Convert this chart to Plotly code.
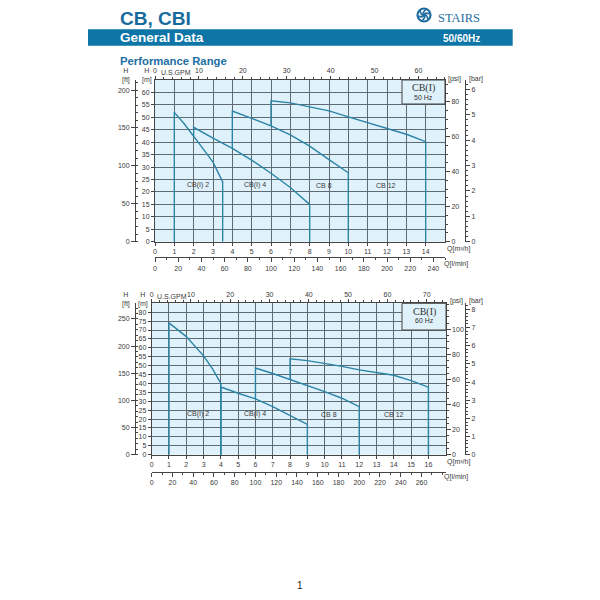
import numpy as np
import plotly.graph_objects as go

# ---------------- data ----------------
# 50 Hz  (Q in m3/h, H in m)
Q50_CB2 = [1, 1.5, 2, 2.5, 3, 3.5]
H50_CB2 = [52, 47.5, 42.5, 37.2, 32, 24]
Q50_CB4 = [2, 3, 4, 5, 6, 7, 8]
H50_CB4 = [46, 41.6, 37.5, 32.8, 27.5, 21.8, 15]
Q50_CB8 = [4, 5, 6, 7, 8, 9, 10]
H50_CB8 = [52.5, 49.6, 46.6, 42.9, 38.4, 33, 27.7]
Q50_CB12 = [6, 7, 8, 9, 10, 11, 12, 13, 14]
H50_CB12 = [56.6, 55.8, 54.2, 52.6, 50.2, 47.9, 45.5, 43.2, 40.2]

# 60 Hz
Q60_CB2 = [1, 2, 3, 3.5, 4]
H60_CB2 = [74, 66.3, 55.5, 48.5, 40]
Q60_CB4 = [4, 5, 6, 7, 8, 9]
H60_CB4 = [38, 34.5, 31.3, 27, 22.1, 17]
Q60_CB8 = [6, 7, 8, 9, 10, 11, 12]
H60_CB8 = [48.7, 45.6, 42.2, 39.2, 35.4, 31.7, 27]
Q60_CB12 = [8, 9, 10, 11, 12, 13, 14, 15, 16]
H60_CB12 = [53.8, 52.8, 51.3, 49.6, 47.6, 46.3, 44.6, 41.6, 37.9]

MODELS = ["CB(I) 2", "CB(I) 4", "CB 8", "CB 12"]
LABEL_Q50 = [2.24, 5.17, 8.73, 11.93]
LABEL_Q60 = [2.69, 6.0, 10.27, 14.0]
LABEL_H = 22.6

GPM_TICKS_50 = list(range(0, 61, 10))
GPM_TICKS_60 = list(range(0, 71, 10))
LMIN_TICKS_50 = list(range(0, 241, 20))
LMIN_TICKS_60 = list(range(0, 261, 20))
FT_TICKS_50 = list(range(0, 201, 50))
FT_TICKS_60 = list(range(0, 251, 50))
PSI_TICKS_50 = list(range(0, 81, 20))
PSI_TICKS_60 = list(range(0, 101, 20))
BAR_TICKS_50 = list(range(0, 7))
BAR_TICKS_60 = list(range(0, 9))

# unit conversions
M3H_TO_GPM = 4.40287
M3H_TO_LMIN = 1000 / 60
M_TO_FT = 3.28084
M_TO_PSI = 1.42233
M_TO_BAR = 1 / 10.1972

# ---------------- styling ----------------
W = 600
def px(x):
    return x / W
def py(y):
    return 1 - y / W

GRID = "#5f6b73"
LINE = "#444444"
TEAL = "#2b84a6"
BG = "#dff1fb"
TXT = "#3a3a3a"
FONT = "Liberation Sans, Arial, sans-serif"
tf = dict(family=FONT, size=7, color=TXT)

fig = go.Figure()

panels = [
    dict(hz="50 Hz", x0=155, x1=445, ytop=80, ybot=241.7, qmax=15, hmax=65,
         curves=[(Q50_CB2, H50_CB2), (Q50_CB4, H50_CB4), (Q50_CB8, H50_CB8), (Q50_CB12, H50_CB12)],
         labq=LABEL_Q50, gpm=GPM_TICKS_50, lmin=LMIN_TICKS_50, ft=FT_TICKS_50, psi=PSI_TICKS_50,
         bar=BAR_TICKS_50, lmin_y=257.3, ft_x=135, bar_x=465,
         names=("x", "x2", "x3", "y", "y2", "y3", "y4"),
         gpm_lab=(176, 72), hft=(126, 75), hm=(147, 75), psi_lab=(454, 79), bar_lab=(476, 79),
         qlab=(445, 249), llab=(442, 263.5), box=(402, 80, 445, 104)),
    dict(hz="60 Hz", x0=151.7, x1=445.7, ytop=303.3, ybot=454.7, qmax=17, hmax=85,
         curves=[(Q60_CB2, H60_CB2), (Q60_CB4, H60_CB4), (Q60_CB8, H60_CB8), (Q60_CB12, H60_CB12)],
         labq=LABEL_Q60, gpm=GPM_TICKS_60, lmin=LMIN_TICKS_60, ft=FT_TICKS_60, psi=PSI_TICKS_60,
         bar=BAR_TICKS_60, lmin_y=471.7, ft_x=135, bar_x=465,
         names=("x4", "x5", "x6", "y5", "y6", "y7", "y8"),
         gpm_lab=(172, 296), hft=(126, 299), hm=(143, 299), psi_lab=(456, 301.5), bar_lab=(476, 301.5),
         qlab=(445, 462), llab=(442, 477.5), box=(402, 303.3, 446, 330)),
]

layout_axes = {}
annotations = []
shapes = []

def axkey(name):
    return name[0] + "axis" + name[1:]

def pann(x, y, text, size, color, bold=False, xanchor="left", family=FONT):
    annotations.append(dict(x=px(x), y=py(y), xref="paper", yref="paper", showarrow=False,
                            text=("<b>%s</b>" % text) if bold else text, xanchor=xanchor,
                            yanchor="middle", font=dict(family=family, size=size, color=color)))

for p in panels:
    xm, xg, xl, ym, yf, yp, yb = p["names"]
    qmax, hmax = p["qmax"], p["hmax"]
    xdom = [px(p["x0"]), px(p["x1"])]
    ydom = [py(p["ybot"]), py(p["ytop"])]
    common = dict(zeroline=False, fixedrange=True, tickfont=tf, tickcolor=LINE,
                  linecolor=LINE, linewidth=1, automargin=False)

    layout_axes[axkey(xm)] = dict(domain=xdom, range=[0, qmax], anchor=ym,
                                  tickmode="array", tickvals=list(range(qmax)),
                                  showgrid=True, gridcolor=GRID, gridwidth=1,
                                  showline=True, mirror=True, ticks="outside", ticklen=3, **common)
    layout_axes[axkey(ym)] = dict(domain=ydom, range=[0, hmax], anchor=xm,
                                  tickmode="array", tickvals=list(range(0, hmax, 5)),
                                  showgrid=True, gridcolor=GRID, gridwidth=1,
                                  showline=True, mirror=True, ticks="outside", ticklen=3, **common)
    layout_axes[axkey(xg)] = dict(overlaying=xm, side="top", anchor=ym, range=[0, qmax * M3H_TO_GPM],
                                  tickmode="array", tickvals=p["gpm"], showgrid=False,
                                  showline=True, ticks="outside", ticklen=3,
                                  minor=dict(ticks="outside", ticklen=2, dtick=2, tick0=0, tickcolor=LINE),
                                  **common)
    layout_axes[axkey(xl)] = dict(overlaying=xm, side="bottom", anchor="free", position=py(p["lmin_y"]),
                                  range=[0, qmax * M3H_TO_LMIN],
                                  tickmode="array", tickvals=p["lmin"], showgrid=False,
                                  showline=True, ticks="outside", ticklen=4,
                                  minor=dict(ticks="outside", ticklen=2, dtick=10, tick0=0, tickcolor=LINE),
                                  **common)
    layout_axes[axkey(yf)] = dict(overlaying=ym, side="left", anchor="free", position=px(p["ft_x"]),
                                  range=[0, hmax * M_TO_FT],
                                  tickmode="array", tickvals=p["ft"], showgrid=False,
                                  showline=True, ticks="outside", ticklen=4,
                                  minor=dict(ticks="inside", ticklen=2, dtick=10, tick0=0, tickcolor=LINE),
                                  **common)
    layout_axes[axkey(yp)] = dict(overlaying=ym, side="right", anchor=xm,
                                  range=[0, hmax * M_TO_PSI],
                                  tickmode="array", tickvals=p["psi"], showgrid=False,
                                  showline=False, ticks="outside", ticklen=4,
                                  minor=dict(ticks="outside", ticklen=2, dtick=5, tick0=0, tickcolor=LINE),
                                  **common)
    layout_axes[axkey(yb)] = dict(overlaying=ym, side="right", anchor="free", position=px(p["bar_x"]),
                                  range=[0, hmax * M_TO_BAR],
                                  tickmode="array", tickvals=p["bar"], showgrid=False,
                                  showline=True, ticks="outside", ticklen=4,
                                  minor=dict(ticks="outside", ticklen=2, dtick=0.2, tick0=0, tickcolor=LINE),
                                  **common)

    # curves with their vertical limit lines
    prev = None
    for (q, h), name, lq in zip(p["curves"], MODELS, p["labq"]):
        q = list(q); h = list(h)
        if prev is None or q[0] >= prev[0][-1]:
            start_floor = 0.0
        else:
            start_floor = float(np.interp(q[0], prev[0], prev[1]))
        xs = [q[0]] + q + [q[-1]]
        ys = [start_floor] + h + [0]
        fig.add_trace(go.Scatter(x=xs, y=ys, mode="lines", xaxis=xm, yaxis=ym,
                                 line=dict(color=TEAL, width=1.4), hoverinfo="skip", showlegend=False))
        annotations.append(dict(x=lq, y=LABEL_H, xref=xm, yref=ym, text=name, showarrow=False,
                                xanchor="center", yanchor="middle",
                                font=dict(family=FONT, size=7, color=TXT)))
        prev = (q, h)

    # dummy traces to keep extra axes alive
    for xa, ya in [(xg, ym), (xl, ym), (xm, yf), (xm, yp), (xm, yb)]:
        fig.add_trace(go.Scatter(x=[None], y=[None], xaxis=xa, yaxis=ya, showlegend=False, hoverinfo="skip"))

    # axis titles
    pann(p["gpm_lab"][0], p["gpm_lab"][1], "U.S.GPM", 7, TXT, xanchor="center")
    pann(p["hft"][0], p["hft"][1], "H<br>[ft]", 7, TXT, xanchor="center")
    pann(p["hm"][0], p["hm"][1], "H<br>[m]", 7, TXT, xanchor="center")
    pann(p["psi_lab"][0], p["psi_lab"][1], "[psi]", 7, TXT, xanchor="center")
    pann(p["bar_lab"][0], p["bar_lab"][1], "[bar]", 7, TXT, xanchor="center")
    pann(p["qlab"][0], p["qlab"][1], "Q[m³/h]", 7, TXT)
    pann(p["llab"][0], p["llab"][1], "Q[l/min]", 7, TXT)

    # legend box
    bx0, by0, bx1, by1 = p["box"]
    shapes.append(dict(type="rect", xref="paper", yref="paper", x0=px(bx0), x1=px(bx1),
                       y0=py(by1), y1=py(by0), line=dict(color=LINE, width=1), fillcolor=BG))
    cx = (bx0 + bx1) / 2
    pann(cx, by0 + 8.5, "CB(I)", 10, "#333", xanchor="center", family="Liberation Serif, serif")
    pann(cx, by0 + 17.5, p["hz"], 7, "#333", xanchor="center")

# ---------------- header ----------------
shapes.append(dict(type="rect", xref="paper", yref="paper", x0=px(88), x1=px(512.7),
                   y0=py(45.7), y1=py(29.3), line=dict(width=0), fillcolor="#0e75a7"))
# logo swirl
lx, ly, r = 424, 15, 6.5
shapes.append(dict(type="circle", xref="paper", yref="paper", x0=px(lx - r), x1=px(lx + r),
                   y0=py(ly + r), y1=py(ly - r), line=dict(color="#1f6da0", width=2.2)))
shapes.append(dict(type="circle", xref="paper", yref="paper", x0=px(lx - 1.8), x1=px(lx + 1.8),
                   y0=py(ly + 1.8), y1=py(ly - 1.8), line=dict(color="#1f6da0", width=1), fillcolor="#1f6da0"))
for ang in range(0, 360, 60):
    a = np.radians(ang)
    shapes.append(dict(type="line", xref="paper", yref="paper",
                       x0=px(lx + 2.2 * np.cos(a)), y0=py(ly + 2.2 * np.sin(a)),
                       x1=px(lx + 5.8 * np.cos(a + 0.8)), y1=py(ly + 5.8 * np.sin(a + 0.8)),
                       line=dict(color="#1f6da0", width=1.6)))

pann(118, 18, "CB, CBI", 19, "#176a9c", bold=True)
pann(118, 37.8, "General Data", 13.5, "white", bold=True)
pann(482, 38, "50/60Hz", 10, "white", bold=True, xanchor="right")
pann(118, 60.5, "Performance Range", 11.3, "#1c6ea3", bold=True)
pann(436, 17.5, "STAIRS", 12.5, "#1f6da0", family="Liberation Serif, serif")
pann(300, 585, "1", 10, "#222", xanchor="center")

fig.update_layout(width=600, height=600, margin=dict(l=0, r=0, t=0, b=0),
                  paper_bgcolor="white", plot_bgcolor=BG, showlegend=False,
                  annotations=annotations, shapes=shapes, **layout_axes)

fig.write_html("out.html", config={"displayModeBar": False},
               post_script="document.body.style.margin='0px';document.body.style.padding='0px';")
